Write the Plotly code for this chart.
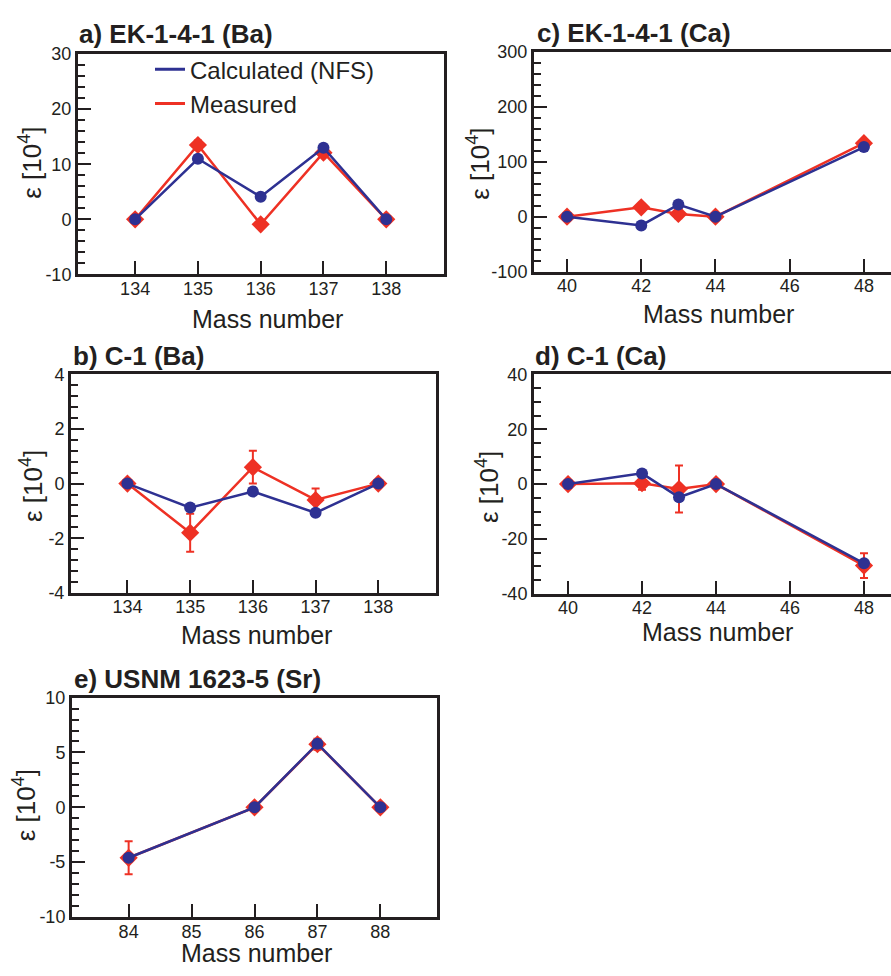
import plotly.graph_objects as go

W, H = 891, 976
BLUE = "#2E3192"
RED = "#EE3124"
INK = "#231F20"
FONT = "Liberation Sans, Arial, Helvetica, sans-serif"

# ---------------- data ----------------
mass_ba = [134, 135, 136, 137, 138]
a_meas = [0, 13.5, -0.9, 12.1, 0]
a_meas_err = [0.3, 0.8, 0.6, 0.6, 0.3]
a_calc = [0, 11.0, 4.1, 13.0, 0]

mass_ca = [40, 42, 43, 44, 48]
c_meas = [0, 17, 5, 0, 134]
c_meas_err = [2, 3, 8, 2, 6]
c_calc = [0, -16, 22, 0, 127]

b_meas = [0, -1.8, 0.6, -0.6, 0]
b_meas_err = [0.05, 0.7, 0.6, 0.42, 0.05]
b_calc = [0, -0.88, -0.29, -1.07, 0]

d_meas = [0, 0.3, -1.8, 0, -29.7]
d_meas_err = [0.5, 2.4, 8.6, 1.0, 4.5]
d_calc = [0, 3.9, -4.8, 0, -28.9]

mass_sr = [84, 86, 87, 88]
e_meas = [-4.6, 0, 5.75, 0]
e_meas_err = [1.5, 0.3, 0.5, 0.3]
e_calc = [-4.6, 0, 5.8, 0]

titles = ["a) EK-1-4-1 (Ba)", "c) EK-1-4-1 (Ca)", "b) C-1 (Ba)", "d) C-1 (Ca)", "e) USNM 1623-5 (Sr)"]
legend_names = ["Calculated (NFS)", "Measured"]

ytick_a = [-10, 0, 10, 20, 30]
ytick_c = [-100, 0, 100, 200, 300]
ytick_b = [-4, -2, 0, 2, 4]
ytick_d = [-40, -20, 0, 20, 40]
ytick_e = [-10, -5, 0, 5, 10]

# ---------------- layout geometry (pixels) ----------------
panels = [
    dict(k="", x=mass_ba, m=a_meas, e=a_meas_err, c=a_calc, box=(78, 444, 45, 270),
         xr=[133.09, 138.92], yt=ytick_a, xt=[134, 135, 136, 137, 138], mdt=2, right=True,
         title=(77, 25), ytitle=(31, 156), xtitle=(267, 315)),
    dict(k="2", x=mass_ca, m=c_meas, e=c_meas_err, c=c_calc, box=(534, 891, 43, 267),
         xr=[39.11, 48.73], yt=ytick_c, xt=[40, 42, 44, 46, 48], mdt=20, right=False,
         title=(535, 23), ytitle=(479, 157), xtitle=(718, 310)),
    dict(k="3", x=mass_ba, m=b_meas, e=b_meas_err, c=b_calc, box=(71, 436, 372, 595),
         xr=[133.1, 138.92], yt=ytick_b, xt=[134, 135, 136, 137, 138], mdt=0.4, right=True,
         title=(71, 353), ytitle=(31, 486), xtitle=(256, 638)),
    dict(k="4", x=mass_ca, m=d_meas, e=d_meas_err, c=d_calc, box=(534, 891, 372, 596),
         xr=[39.08, 48.73], yt=ytick_d, xt=[40, 42, 44, 46, 48], mdt=5, right=False,
         title=(533, 353), ytitle=(487, 487), xtitle=(717, 635)),
    dict(k="5", x=mass_sr, m=e_meas, e=e_meas_err, c=e_calc, box=(72, 437, 702, 926),
         xr=[83.1, 88.9], yt=ytick_e, xt=[84, 85, 86, 87, 88], mdt=1, right=True,
         title=(72, 683), ytitle=(24, 812), xtitle=(256, 963)),
]

fig = go.Figure()
annotations = []
for i, p in enumerate(panels):
    xa = "x" + p["k"]
    ya = "y" + p["k"]
    fig.add_trace(go.Scatter(
        x=p["x"], y=p["m"], xaxis=xa, yaxis=ya, mode="lines+markers",
        line=dict(color=RED, width=2.5),
        marker=dict(symbol="diamond", size=14, color=RED),
        error_y=dict(type="data", array=p["e"], visible=True, color=RED, thickness=2, width=4),
        showlegend=False, cliponaxis=False))
    fig.add_trace(go.Scatter(
        x=p["x"], y=p["c"], xaxis=xa, yaxis=ya, mode="lines+markers",
        line=dict(color=BLUE, width=2.5),
        marker=dict(symbol="circle", size=12, color=BLUE),
        showlegend=False, cliponaxis=False))

    x0, x1, y0, y1 = p["box"]
    axcommon = dict(showgrid=False, zeroline=False, showline=True, linecolor=INK,
                    linewidth=3, ticks="inside", tickcolor=INK, tickwidth=2,
                    ticklen=13, tickfont=dict(family=FONT, size=18, color=INK))
    yt = p["yt"]
    fig.layout["xaxis" + p["k"]] = dict(axcommon, domain=[x0 / W, x1 / W], range=p["xr"],
                                        tickmode="array", tickvals=p["xt"], mirror=True,
                                        anchor=ya)
    try:
        fig.layout["xaxis" + p["k"]].ticklabelstandoff = -4
    except Exception:
        pass
    fig.layout["yaxis" + p["k"]] = dict(axcommon, domain=[1 - y1 / H, 1 - y0 / H],
                                        range=[yt[0], yt[-1]],
                                        tickmode="array", tickvals=yt,
                                        ticktext=[str(v) for v in yt],
                                        mirror=p["right"], anchor=xa,
                                        minor=dict(ticks="inside", ticklen=7, tickwidth=2,
                                                   tickcolor=INK, dtick=p["mdt"], tick0=0))

    tx, ty = p["title"]
    annotations.append(dict(text="<b>" + titles[i] + "</b>", x=tx / W, y=1 - ty / H,
                            xref="paper", yref="paper", xanchor="left", yanchor="middle",
                            showarrow=False, font=dict(family=FONT, size=26, color=INK)))
    yx, yy = p["ytitle"]
    annotations.append(dict(text="ε [10<sup>4</sup>]", x=yx / W, y=1 - yy / H,
                            xref="paper", yref="paper", xanchor="center", yanchor="middle",
                            textangle=-90, showarrow=False,
                            font=dict(family=FONT, size=26, color=INK)))
    mx, my = p["xtitle"]
    annotations.append(dict(text="Mass number", x=mx / W, y=1 - my / H,
                            xref="paper", yref="paper", xanchor="center", yanchor="middle",
                            showarrow=False, font=dict(family=FONT, size=25, color=INK)))

# legend-only traces
fig.add_trace(go.Scatter(x=[None], y=[None], mode="lines", name=legend_names[0],
                         line=dict(color=BLUE, width=3)))
fig.add_trace(go.Scatter(x=[None], y=[None], mode="lines", name=legend_names[1],
                         line=dict(color=RED, width=3)))

fig.update_layout(
    width=W, height=H, margin=dict(l=0, r=0, t=0, b=0),
    paper_bgcolor="white", plot_bgcolor="white",
    annotations=annotations,
    showlegend=True,
    legend=dict(x=150 / W, y=1 - 38 / H, xanchor="left", yanchor="top",
                bgcolor="rgba(0,0,0,0)", font=dict(family=FONT, size=24, color=INK),
                tracegroupgap=0, itemwidth=30),
)

fig.write_html("out.html", config={"displayModeBar": False},
               post_script="document.body.style.margin='0';document.body.style.overflow='hidden';")
